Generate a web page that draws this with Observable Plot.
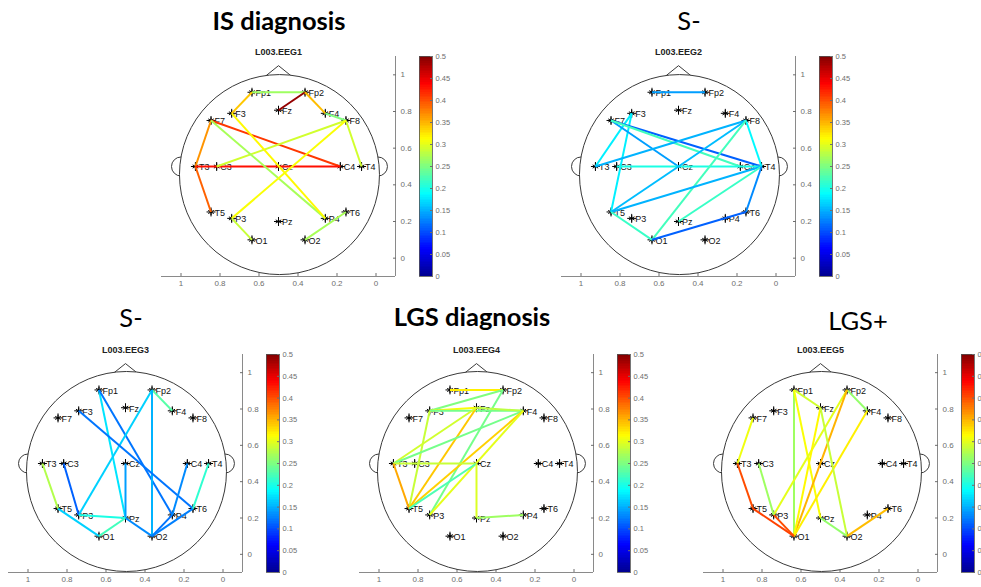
<!DOCTYPE html>
<html><head><meta charset="utf-8">
<script src="https://cdn.jsdelivr.net/npm/d3@7"></script>
<script src="https://cdn.jsdelivr.net/npm/@observablehq/plot@0.6"></script>
<style>
html,body{margin:0;padding:0;background:#fff;}
#root{position:relative;width:981px;height:587px;overflow:hidden;background:#fff;}
#root svg{position:absolute;}
</style></head><body><div id="root"></div>
<script>
// ---------------- data ----------------
const electrodeNames = ["Fp1","Fp2","F7","F3","Fz","F4","F8","T3","C3","Cz","C4","T4","T5","P3","Pz","P4","T6","O1","O2"];
const electrodeX = [0.636,0.364,0.846,0.74,0.5,0.26,0.154,0.926,0.817,0.5,0.183,0.074,0.846,0.74,0.5,0.26,0.154,0.636,0.364];
const electrodeY = [0.905,0.905,0.751,0.79,0.807,0.79,0.751,0.5,0.5,0.5,0.5,0.5,0.252,0.217,0.2,0.217,0.252,0.1,0.1];

const panelTitles = ["IS diagnosis","S-","S-","LGS diagnosis","LGS+"];
const panelBold = [true,false,false,true,false];
const panelSubtitles = ["L003.EEG1","L003.EEG2","L003.EEG3","L003.EEG4","L003.EEG5"];

const axisLimits = [-0.1,1.1];
const axisTicks = [0,0.2,0.4,0.6,0.8,1];
const colorbarLimits = [0,0.5];
const colorbarTicks = [0,0.05,0.1,0.15,0.2,0.25,0.3,0.35,0.4,0.45,0.5];
const jetStops = [0,0.0625,0.1875,0.3125,0.4375,0.5];
const jetColors = ["#000090","#0000ff","#00ffff","#ffff00","#ff0000","#800000"];

// head outline (data units)
const headCenterX = [0.495], headCenterY = [0.456];
const earX = [1.0,-0.01], earY = [0.5,0.5];
const noseX = [0.43,0.5,0.57], noseY = [0.99,1.05,0.99];

// connections: [from, to, value]
const eeg1Links = [
  ["Fp1","Fp2",0.265],["Fp1","F3",0.34],["Fp2","Fz",0.49],["Fp2","F4",0.345],
  ["F4","F8",0.25],["F8","T4",0.29],["F7","T3",0.365],["T3","T5",0.39],
  ["F7","C4",0.41],["T3","C4",0.43],["C3","F8",0.29],["F7","P4",0.27],
  ["F3","P4",0.315],["P3","F8",0.31],["P3","O1",0.285],["O2","T6",0.27]
];
const eeg2Links = [
  ["Fp1","Fp2",0.14],["F3","T3",0.18],["F3","T5",0.18],["F7","Cz",0.14],
  ["F7","T4",0.11],["F7","C4",0.22],["T3","F8",0.15],["C3","T4",0.2],
  ["Cz","F8",0.155],["F8","T4",0.185],["F8","O1",0.22],["T5","Cz",0.155],
  ["T5","T4",0.15],["T5","O1",0.215],["T4","Pz",0.215],["T4","T6",0.13],["T6","O1",0.11]
];
const eeg3Links = [
  ["Fp2","F4",0.23],["Fp1","Pz",0.175],["Fp1","P4",0.12],["Fp2","P3",0.165],
  ["Fp2","O2",0.15],["F3","T6",0.12],["T3","T5",0.275],["C3","P3",0.11],
  ["Cz","Pz",0.14],["T5","O1",0.165],["P3","Pz",0.2],["Pz","O1",0.22],
  ["Pz","O2",0.13],["O2","P4",0.12],["O2","T6",0.125],["C4","P4",0.13],["T4","T6",0.21]
];
const eeg4Links = [
  ["Fp1","Fp2",0.32],["Fp2","F3",0.25],["Fp2","P3",0.245],["F3","Fz",0.31],
  ["F3","F4",0.245],["Fz","F4",0.28],["F3","T5",0.285],["Fz","T5",0.34],
  ["Fz","T3",0.29],["F4","T3",0.245],["F4","T5",0.335],["F4","P3",0.3],
  ["T3","Cz",0.285],["T3","T5",0.355],["T5","Cz",0.225],["Cz","Pz",0.295],["Pz","P4",0.265]
];
const eeg5Links = [
  ["Fp1","Fz",0.29],["Fp1","O1",0.265],["Fp1","Pz",0.31],["Fp2","F4",0.26],
  ["Fp2","P3",0.3],["Fp2","O1",0.35],["Fz","O1",0.315],["F4","O1",0.32],
  ["Fz","O2",0.285],["F7","T3",0.305],["T3","T5",0.4],["T5","O1",0.405],
  ["P3","O1",0.4],["C3","P3",0.265],["Pz","O2",0.26],["O2","T6",0.345]
];
const panelLinks = [eeg1Links,eeg2Links,eeg3Links,eeg4Links,eeg5Links];

// ---------------- layout ----------------
const AX_W = 234;
const panelAxesH = [220,220,218,218,218];
const ML = 15, MR = 25, MT = 22, MB = 16;
const panelAxesLeft = [160.5,560.5,8.2,359.4,702.7];
const panelAxesTop = [55.7,55.7,354.1,354.1,354.4];
const CB_GAP = 24, CB_W = 13, CB_MR = 24;
const titleCenterX = [279,689,131,472,858];
const titleBaseline = [30,30,327,326,330];

const root = document.getElementById("root");
const electrodes = electrodeNames.map((n,i)=>({name:n,x:electrodeX[i],y:electrodeY[i]}));
const pos = Object.fromEntries(electrodes.map(e=>[e.name,e]));
const jet = {type:"linear", domain: jetStops, range: jetColors, interpolate:"rgb"};
const axisColor = "#6e6e6e";
const baseStyle = {background:"transparent", overflow:"visible", fontFamily:"'Liberation Sans', Arial, sans-serif"};

function headPanel(i){
  const links = panelLinks[i].map(([a,b,v])=>({a,b,v}));
  const H = panelAxesH[i];
  return Plot.plot({
    width: AX_W+ML+MR, height: H+MT+MB,
    marginLeft: ML, marginRight: MR, marginTop: MT, marginBottom: MB,
    x:{domain:axisLimits, reverse:true},
    y:{domain:axisLimits},
    color: jet,
    style: baseStyle,
    marks:[
      Plot.ruleY([axisLimits[0]],{stroke:"#8a8a8a",strokeWidth:1}),
      Plot.ruleX([axisLimits[0]],{stroke:"#8a8a8a",strokeWidth:1}),
      Plot.axisX(axisTicks,{anchor:"bottom", label:null, tickSize:-3, tickPadding:7, fontSize:8, color:axisColor, tickFormat:d=>String(d)}),
      Plot.axisY(axisTicks,{anchor:"right", label:null, tickSize:-3, tickPadding:8, fontSize:8, color:axisColor, tickFormat:d=>String(d)}),
      Plot.line(noseX.map((x,k)=>({x,y:noseY[k]})),{x:"x",y:"y",stroke:"#3a3a3a",strokeWidth:1}),
      Plot.dot(earX.map((x,k)=>({x,y:earY[k]})),{x:"x",y:"y",r:9.5,stroke:"#3a3a3a",fill:"white",strokeWidth:1}),
      Plot.dot(headCenterX.map((x,k)=>({x,y:headCenterY[k]})),{x:"x",y:"y",r:100,stroke:"#3a3a3a",fill:"white",strokeWidth:1}),
      Plot.dot(electrodes,{x:"x",y:"y",symbol:"asterisk",r:3,stroke:"black",strokeWidth:1}),
      Plot.dot(electrodes,{x:"x",y:"y",symbol:"plus",r:3,stroke:"black",strokeWidth:1}),
      Plot.text(electrodes,{x:"x",y:"y",text:"name",textAnchor:"start",dx:3.5,dy:1,fontSize:9,fill:"#111"}),
      Plot.link(links,{x1:d=>pos[d.a].x,y1:d=>pos[d.a].y,x2:d=>pos[d.b].x,y2:d=>pos[d.b].y,stroke:"v",strokeWidth:2}),
      Plot.text([panelSubtitles[i]],{frameAnchor:"top",text:d=>d,dy:-8,fontSize:9,fontWeight:"bold",fill:"#222"})
    ]
  });
}

function colorbar(i){
  const H = panelAxesH[i];
  const n = 128, step = (colorbarLimits[1]-colorbarLimits[0])/n;
  const steps = d3.range(n).map(k=>colorbarLimits[0]+k*step);
  return Plot.plot({
    width: CB_W+CB_MR, height: H+MT+MB,
    marginLeft:0, marginRight:CB_MR, marginTop:MT, marginBottom:MB,
    x:{domain:[0,1], axis:null},
    y:{domain:colorbarLimits, axis:null},
    color: jet,
    style: baseStyle,
    marks:[
      Plot.rect(steps,{x1:0,x2:1,y1:d=>d,y2:d=>d+step*1.2,fill:d=>d+step/2,shapeRendering:"crispEdges"}),
      Plot.frame({stroke:"#555",strokeWidth:0.8}),
      Plot.axisY(colorbarTicks,{anchor:"right", label:null, tickSize:-3, tickPadding:6, fontSize:7.5, color:axisColor, tickFormat:d=>String(d)})
    ]
  });
}

panelTitles.forEach((t,i)=>{
  const p = headPanel(i);
  p.style.left = (panelAxesLeft[i]-ML)+"px";
  p.style.top = (panelAxesTop[i]-MT)+"px";
  root.appendChild(p);
  const c = colorbar(i);
  c.style.left = (panelAxesLeft[i]+AX_W+CB_GAP)+"px";
  c.style.top = (panelAxesTop[i]-MT)+"px";
  root.appendChild(c);
});

// titles
const tsvg = d3.select(root).append("svg").attr("width",981).attr("height",587).style("left","0px").style("top","0px").style("pointer-events","none");
panelTitles.forEach((t,i)=>{
  tsvg.append("text").attr("x",titleCenterX[i]).attr("y",titleBaseline[i])
    .attr("text-anchor","middle").attr("font-family","Lato, 'Open Sans', sans-serif")
    .attr("font-size",25.5).attr("font-weight",panelBold[i]?700:400).attr("fill","#000").text(t);
});
</script>
</body></html>
